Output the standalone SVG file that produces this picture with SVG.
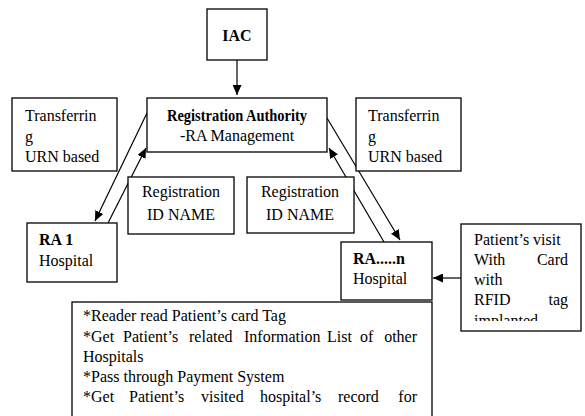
<svg xmlns="http://www.w3.org/2000/svg" width="585" height="416" viewBox="0 0 585 416">
<style>
  .box { fill: #fff; stroke: #000; stroke-width: 1.3; }
  .t { font-family: "Liberation Serif", "DejaVu Serif", serif; font-size: 16px; fill: #000; }
  .b { font-weight: bold; }
  .c { text-anchor: middle; }
  .e { text-anchor: end; }
  .ln { stroke: #000; stroke-width: 1.2; fill: none; marker-end: url(#ah); }
</style>
<defs>
  <marker id="ah" markerUnits="userSpaceOnUse" markerWidth="11" markerHeight="9" refX="10" refY="4.5" orient="auto">
    <path d="M0,0 L10,4.5 L0,9 z" fill="#000"/>
  </marker>
  <clipPath id="pclip"><rect x="461" y="224" width="120" height="97"/></clipPath>
</defs>
<rect width="585" height="416" fill="#fff"/>

<g id="connectors">
  <line class="ln" x1="237" y1="60" x2="237" y2="95"/>
  <line class="ln" x1="147" y1="113" x2="95" y2="221"/>
  <line class="ln" x1="108" y1="223" x2="146" y2="148"/>
  <line class="ln" x1="327" y1="118" x2="400" y2="240"/>
  <line class="ln" x1="384" y1="242" x2="329" y2="148"/>
  <line class="ln" x1="461" y1="278" x2="433" y2="278"/>
</g>

<g id="iac">
  <rect class="box" x="207" y="9" width="60" height="51"/>
  <text class="t b c" x="237" y="41">IAC</text>
</g>

<g id="ra">
  <rect class="box" x="147" y="98" width="180" height="54"/>
  <text class="t b c" x="237" y="121" textLength="140" lengthAdjust="spacingAndGlyphs">Registration Authority</text>
  <text class="t c" x="237" y="141">-RA Management</text>
</g>

<g id="transfer-left">
  <rect class="box" x="12" y="98" width="105" height="73"/>
  <text class="t" x="25" y="121">Transferrin</text>
  <text class="t" x="25" y="142">g</text>
  <text class="t" x="25" y="162">URN based</text>
</g>

<g id="transfer-right">
  <rect class="box" x="356" y="98" width="105" height="73"/>
  <text class="t" x="368" y="121">Transferrin</text>
  <text class="t" x="368" y="142">g</text>
  <text class="t" x="368" y="162">URN based</text>
</g>

<g id="regid-left">
  <rect class="box" x="128" y="177" width="106" height="57"/>
  <text class="t c" x="181" y="197">Registration</text>
  <text class="t c" x="181" y="220">ID NAME</text>
</g>

<g id="regid-right">
  <rect class="box" x="247" y="177" width="107" height="56"/>
  <text class="t c" x="300" y="197">Registration</text>
  <text class="t c" x="300" y="220">ID NAME</text>
</g>

<g id="ra1">
  <rect class="box" x="27" y="223" width="90" height="59"/>
  <text class="t b" x="39" y="245">RA 1</text>
  <text class="t" x="39" y="266">Hospital</text>
</g>

<g id="ran">
  <rect class="box" x="341" y="242" width="91" height="58"/>
  <text class="t b" x="353" y="264">RA.....n</text>
  <text class="t" x="353" y="284">Hospital</text>
</g>

<g id="patient">
  <rect class="box" x="461" y="224" width="120" height="107"/>
  <g clip-path="url(#pclip)">
    <text class="t" x="474" y="245">Patient’s visit</text>
    <text class="t" x="474" y="265">With</text>
    <text class="t e" x="568" y="265">Card</text>
    <text class="t" x="474" y="285">with</text>
    <text class="t" x="474" y="305">RFID</text>
    <text class="t e" x="568" y="305">tag</text>
    <text class="t" x="474" y="326">implanted</text>
  </g>
</g>

<g id="process">
  <rect class="box" x="72" y="302" width="360" height="130"/>
  <text class="t" x="83" y="321">*Reader read Patient’s card Tag</text>
  <text class="t" y="342"><tspan x="83">*Get</tspan><tspan x="123">Patient’s</tspan><tspan x="189">related</tspan><tspan x="244">Information</tspan><tspan x="327">List</tspan><tspan x="360">of</tspan></text>
  <text class="t e" x="417" y="342">other</text>
  <text class="t" x="83" y="362">Hospitals</text>
  <text class="t" x="83" y="382">*Pass through Payment System</text>
  <text class="t" y="402"><tspan x="83">*Get</tspan><tspan x="129">Patient’s</tspan><tspan x="201">visited</tspan><tspan x="260">hospital’s</tspan><tspan x="338">record</tspan></text>
  <text class="t e" x="417" y="402">for</text>
</g>
</svg>
